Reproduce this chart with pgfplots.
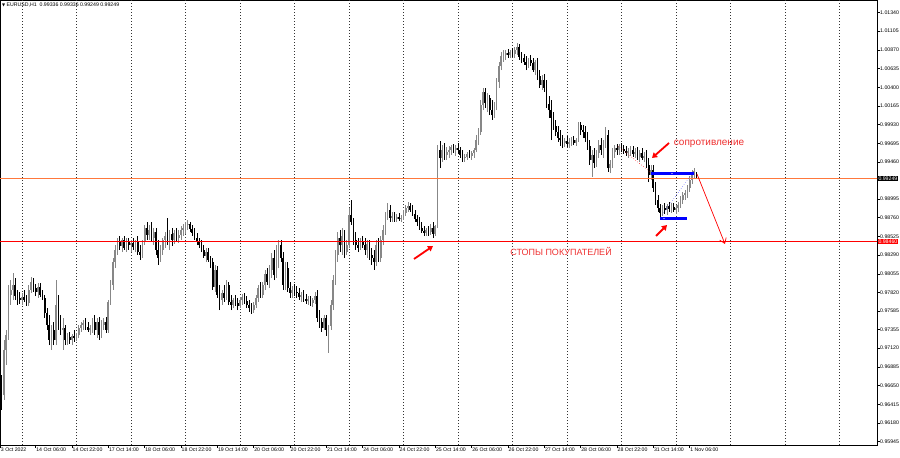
\documentclass[border=0pt]{standalone}
\usepackage{fontspec}
\setmainfont{Liberation Sans}
\newfontfamily\dejavu{DejaVu Sans}
\usepackage{pgfplots}
\pgfplotsset{compat=1.18}
\usepackage{pgfplotstable}
\usetikzlibrary{arrows.meta}
\definecolor{annred}{RGB}{238,48,48}
\definecolor{bidline}{RGB}{255,120,60}
\definecolor{bullgray}{RGB}{135,135,135}

\pgfplotstableread{
i o h l c
-10 0.97349 0.97475 0.96658 0.96720
-9 0.96720 0.96783 0.96343 0.96532
-8 0.96532 0.97223 0.96469 0.97098
-7 0.97098 0.97349 0.96909 0.97286
-6 0.97286 0.97915 0.97223 0.97789
-5 0.97789 0.97977 0.97663 0.97852
-4 0.97852 0.98065 0.97726 0.97915
-3 0.97915 0.98003 0.97726 0.97776
-2 0.97776 0.97852 0.97663 0.97751
-1 0.97751 0.97827 0.97676 0.97726
0 0.97726 0.97814 0.97663 0.97764
1 0.97764 0.97852 0.97701 0.97726
2 0.97726 0.97789 0.97651 0.97688
3 0.97688 0.97915 0.97651 0.97852
4 0.97852 0.98015 0.97814 0.97952
5 0.97952 0.98003 0.97827 0.97877
6 0.97877 0.97927 0.97776 0.97827
7 0.97827 0.97940 0.97751 0.97889
8 0.97889 0.97940 0.97764 0.97789
9 0.97789 0.97852 0.97726 0.97751
10 0.97751 0.97789 0.97500 0.97563
11 0.97563 0.97625 0.97349 0.97412
12 0.97412 0.97537 0.97160 0.97223
13 0.97223 0.97412 0.97098 0.97349
14 0.97349 0.97450 0.97160 0.97223
15 0.97223 0.97977 0.97160 0.97663
16 0.97663 0.97789 0.97349 0.97450
17 0.97450 0.97537 0.97286 0.97349
18 0.97349 0.97500 0.97098 0.97374
19 0.97374 0.97412 0.97160 0.97223
20 0.97223 0.97311 0.97160 0.97261
21 0.97261 0.97324 0.97173 0.97223
22 0.97223 0.97299 0.97160 0.97274
23 0.97274 0.97349 0.97198 0.97248
24 0.97248 0.97311 0.97211 0.97286
25 0.97286 0.97412 0.97248 0.97374
26 0.97374 0.97450 0.97324 0.97412
27 0.97412 0.97475 0.97349 0.97437
28 0.97437 0.97500 0.97349 0.97387
29 0.97387 0.97450 0.97324 0.97349
30 0.97349 0.97412 0.97286 0.97374
31 0.97374 0.97500 0.97311 0.97450
32 0.97450 0.97537 0.97286 0.97349
33 0.97349 0.97500 0.97248 0.97450
34 0.97450 0.97512 0.97223 0.97286
35 0.97286 0.97475 0.97248 0.97412
36 0.97412 0.97500 0.97349 0.97450
37 0.97450 0.97512 0.97311 0.97349
38 0.97349 0.97726 0.97311 0.97701
39 0.97701 0.97977 0.97663 0.97915
40 0.97915 0.98254 0.97852 0.98204
41 0.98204 0.98417 0.98128 0.98355
42 0.98355 0.98505 0.98292 0.98455
43 0.98455 0.98531 0.98355 0.98405
44 0.98405 0.98505 0.98329 0.98480
45 0.98480 0.98531 0.98355 0.98380
46 0.98380 0.98505 0.98329 0.98455
47 0.98455 0.98505 0.98355 0.98417
48 0.98417 0.98480 0.98329 0.98443
49 0.98443 0.98505 0.98355 0.98392
50 0.98392 0.98480 0.98329 0.98468
51 0.98468 0.98531 0.98292 0.98329
52 0.98329 0.98417 0.98229 0.98292
53 0.98292 0.98480 0.98254 0.98455
54 0.98455 0.98669 0.98417 0.98631
55 0.98631 0.98707 0.98480 0.98543
56 0.98543 0.98669 0.98480 0.98606
57 0.98606 0.98707 0.98455 0.98505
58 0.98505 0.98631 0.98417 0.98581
59 0.98581 0.98631 0.98292 0.98355
60 0.98355 0.98480 0.98166 0.98254
61 0.98254 0.98417 0.98204 0.98355
62 0.98355 0.98505 0.98292 0.98480
63 0.98480 0.98581 0.98380 0.98531
64 0.98531 0.98757 0.98417 0.98455
65 0.98455 0.98606 0.98355 0.98556
66 0.98556 0.98631 0.98405 0.98480
67 0.98480 0.98606 0.98430 0.98568
68 0.98568 0.98631 0.98455 0.98505
69 0.98505 0.98606 0.98443 0.98543
70 0.98543 0.98656 0.98480 0.98606
71 0.98606 0.98681 0.98531 0.98631
72 0.98631 0.98707 0.98556 0.98669
73 0.98669 0.98732 0.98606 0.98681
74 0.98681 0.98707 0.98581 0.98619
75 0.98619 0.98669 0.98531 0.98568
76 0.98568 0.98631 0.98480 0.98505
77 0.98505 0.98568 0.98417 0.98455
78 0.98455 0.98505 0.98380 0.98417
79 0.98417 0.98480 0.98329 0.98355
80 0.98355 0.98417 0.98254 0.98279
81 0.98279 0.98380 0.98204 0.98329
82 0.98329 0.98380 0.98204 0.98229
83 0.98229 0.98279 0.98128 0.98204
84 0.98204 0.98254 0.97852 0.97889
85 0.97889 0.98166 0.97827 0.98103
86 0.98103 0.98153 0.97751 0.97789
87 0.97789 0.97915 0.97600 0.97726
88 0.97726 0.97852 0.97663 0.97814
89 0.97814 0.97915 0.97701 0.97751
90 0.97751 0.97977 0.97726 0.97915
91 0.97915 0.97952 0.97663 0.97701
92 0.97701 0.97789 0.97600 0.97663
93 0.97663 0.97751 0.97625 0.97726
94 0.97726 0.97789 0.97651 0.97688
95 0.97688 0.97751 0.97600 0.97651
96 0.97651 0.97764 0.97625 0.97726
97 0.97726 0.97802 0.97663 0.97764
98 0.97764 0.97814 0.97676 0.97713
99 0.97713 0.97776 0.97625 0.97663
100 0.97663 0.97726 0.97575 0.97625
101 0.97625 0.97688 0.97550 0.97600
102 0.97600 0.97701 0.97563 0.97663
103 0.97663 0.97789 0.97625 0.97751
104 0.97751 0.97915 0.97701 0.97877
105 0.97877 0.97952 0.97751 0.97789
106 0.97789 0.97952 0.97751 0.97915
107 0.97915 0.98103 0.97852 0.98053
108 0.98053 0.98128 0.97915 0.97952
109 0.97952 0.98166 0.97877 0.98103
110 0.98103 0.98317 0.98003 0.98254
111 0.98254 0.98355 0.97977 0.98040
112 0.98040 0.98417 0.98003 0.98355
113 0.98355 0.98480 0.98128 0.98417
114 0.98417 0.98480 0.98204 0.98254
115 0.98254 0.98329 0.97852 0.97915
116 0.97915 0.98204 0.97852 0.98128
117 0.98128 0.98204 0.97827 0.97877
118 0.97877 0.97952 0.97751 0.97814
119 0.97814 0.97902 0.97751 0.97852
120 0.97852 0.97927 0.97776 0.97827
121 0.97827 0.97902 0.97751 0.97814
122 0.97814 0.97877 0.97726 0.97764
123 0.97764 0.97827 0.97701 0.97789
124 0.97789 0.97852 0.97701 0.97739
125 0.97739 0.97802 0.97676 0.97713
126 0.97713 0.97776 0.97663 0.97739
127 0.97739 0.97776 0.97651 0.97688
128 0.97688 0.97751 0.97638 0.97726
129 0.97726 0.97827 0.97676 0.97776
130 0.97776 0.97852 0.97450 0.97500
131 0.97500 0.97600 0.97374 0.97450
132 0.97450 0.97500 0.97324 0.97374
133 0.97374 0.97537 0.97349 0.97500
134 0.97500 0.97537 0.97274 0.97349
135 0.97349 0.97412 0.97060 0.97399
136 0.97399 0.97726 0.97349 0.97663
137 0.97663 0.98040 0.97600 0.97977
138 0.97977 0.98355 0.97915 0.98292
139 0.98292 0.98581 0.98204 0.98505
140 0.98505 0.98606 0.98329 0.98417
141 0.98417 0.98631 0.98292 0.98531
142 0.98531 0.98606 0.98254 0.98329
143 0.98329 0.98480 0.98292 0.98417
144 0.98417 0.98882 0.98380 0.98794
145 0.98794 0.98983 0.98669 0.98707
146 0.98707 0.98757 0.98417 0.98480
147 0.98480 0.98581 0.98355 0.98417
148 0.98417 0.98505 0.98329 0.98380
149 0.98380 0.98505 0.98355 0.98455
150 0.98455 0.98531 0.98380 0.98417
151 0.98417 0.98505 0.98292 0.98355
152 0.98355 0.98480 0.98254 0.98430
153 0.98430 0.98480 0.98229 0.98292
154 0.98292 0.98380 0.98166 0.98254
155 0.98254 0.98355 0.98103 0.98204
156 0.98204 0.98480 0.98153 0.98417
157 0.98417 0.98505 0.98204 0.98254
158 0.98254 0.98531 0.98204 0.98480
159 0.98480 0.98669 0.98417 0.98606
160 0.98606 0.98832 0.98543 0.98794
161 0.98794 0.98945 0.98732 0.98857
162 0.98857 0.98920 0.98707 0.98757
163 0.98757 0.98832 0.98707 0.98782
164 0.98782 0.98832 0.98707 0.98744
165 0.98744 0.98807 0.98707 0.98769
166 0.98769 0.98820 0.98719 0.98744
167 0.98744 0.98794 0.98707 0.98757
168 0.98757 0.98857 0.98732 0.98820
169 0.98820 0.98920 0.98782 0.98882
170 0.98882 0.98958 0.98832 0.98908
171 0.98908 0.98945 0.98832 0.98857
172 0.98857 0.98920 0.98782 0.98807
173 0.98807 0.98857 0.98707 0.98744
174 0.98744 0.98794 0.98656 0.98707
175 0.98707 0.98769 0.98606 0.98631
176 0.98631 0.98707 0.98568 0.98593
177 0.98593 0.98656 0.98531 0.98568
178 0.98568 0.98631 0.98531 0.98606
179 0.98606 0.98656 0.98531 0.98581
180 0.98581 0.98681 0.98543 0.98631
181 0.98631 0.98707 0.98505 0.98556
182 0.98556 0.98669 0.98531 0.98656
183 0.98656 0.99674 0.98631 0.99612
184 0.99612 0.99725 0.99385 0.99511
185 0.99511 0.99674 0.99461 0.99612
186 0.99612 0.99700 0.99486 0.99549
187 0.99549 0.99649 0.99486 0.99586
188 0.99586 0.99662 0.99511 0.99612
189 0.99612 0.99674 0.99549 0.99649
190 0.99649 0.99687 0.99574 0.99612
191 0.99612 0.99674 0.99536 0.99637
192 0.99637 0.99700 0.99561 0.99612
193 0.99612 0.99649 0.99511 0.99549
194 0.99549 0.99612 0.99461 0.99511
195 0.99511 0.99561 0.99461 0.99524
196 0.99524 0.99586 0.99486 0.99561
197 0.99561 0.99612 0.99511 0.99536
198 0.99536 0.99599 0.99486 0.99574
199 0.99574 0.99637 0.99511 0.99612
200 0.99612 0.99800 0.99586 0.99737
201 0.99737 0.99888 0.99674 0.99838
202 0.99838 1.00240 0.99800 1.00177
203 1.00177 1.00391 1.00114 1.00341
204 1.00341 1.00391 1.00139 1.00202
205 1.00202 1.00328 1.00089 1.00265
206 1.00265 1.00303 1.00051 1.00114
207 1.00114 1.00240 0.99989 1.00051
208 1.00051 1.00215 1.00014 1.00139
209 1.00139 1.00517 1.00114 1.00466
210 1.00466 1.00718 1.00391 1.00667
211 1.00667 1.00843 1.00617 1.00793
212 1.00793 1.00869 1.00718 1.00806
213 1.00806 1.00869 1.00743 1.00831
214 1.00831 1.00881 1.00768 1.00806
215 1.00806 1.00869 1.00768 1.00843
216 1.00843 1.00894 1.00781 1.00818
217 1.00818 1.00906 1.00768 1.00869
218 1.00869 1.00957 1.00806 1.00906
219 1.00906 1.00944 1.00743 1.00781
220 1.00781 1.00843 1.00705 1.00768
221 1.00768 1.00818 1.00680 1.00718
222 1.00718 1.00793 1.00617 1.00680
223 1.00680 1.00768 1.00642 1.00743
224 1.00743 1.00806 1.00667 1.00705
225 1.00705 1.00768 1.00592 1.00617
226 1.00617 1.00743 1.00554 1.00718
227 1.00718 1.00768 1.00491 1.00542
228 1.00542 1.00617 1.00391 1.00429
229 1.00429 1.00554 1.00366 1.00491
230 1.00491 1.00567 1.00341 1.00391
231 1.00391 1.00491 1.00139 1.00190
232 1.00190 1.00290 1.00014 1.00114
233 1.00114 1.00240 0.99737 1.00014
234 1.00014 1.00089 0.99863 0.99913
235 0.99913 0.99989 0.99787 0.99838
236 0.99838 0.99913 0.99712 0.99762
237 0.99762 0.99863 0.99662 0.99737
238 0.99737 0.99800 0.99637 0.99700
239 0.99700 0.99762 0.99649 0.99725
240 0.99725 0.99787 0.99649 0.99687
241 0.99687 0.99762 0.99637 0.99712
242 0.99712 0.99775 0.99662 0.99737
243 0.99737 0.99787 0.99674 0.99700
244 0.99700 0.99762 0.99662 0.99737
245 0.99737 0.99963 0.99712 0.99926
246 0.99926 0.99963 0.99800 0.99863
247 0.99863 0.99926 0.99762 0.99838
248 0.99838 0.99913 0.99712 0.99762
249 0.99762 0.99838 0.99612 0.99662
250 0.99662 0.99737 0.99423 0.99486
251 0.99486 0.99612 0.99272 0.99549
252 0.99549 0.99637 0.99385 0.99448
253 0.99448 0.99612 0.99398 0.99574
254 0.99574 0.99737 0.99511 0.99674
255 0.99674 0.99762 0.99549 0.99612
256 0.99612 0.99737 0.99511 0.99700
257 0.99700 0.99901 0.99637 0.99800
258 0.99800 0.99863 0.99335 0.99385
259 0.99385 0.99486 0.99322 0.99436
260 0.99436 0.99637 0.99385 0.99586
261 0.99586 0.99674 0.99511 0.99637
262 0.99637 0.99687 0.99549 0.99612
263 0.99612 0.99687 0.99549 0.99662
264 0.99662 0.99700 0.99586 0.99624
265 0.99624 0.99674 0.99561 0.99599
266 0.99599 0.99662 0.99536 0.99574
267 0.99574 0.99637 0.99511 0.99599
268 0.99599 0.99662 0.99536 0.99612
269 0.99612 0.99662 0.99524 0.99561
270 0.99561 0.99637 0.99511 0.99586
271 0.99586 0.99649 0.99486 0.99524
272 0.99524 0.99612 0.99461 0.99574
273 0.99574 0.99637 0.99486 0.99511
274 0.99511 0.99586 0.99461 0.99536
275 0.99536 0.99612 0.99385 0.99423
276 0.99423 0.99511 0.99209 0.99297
277 0.99297 0.99423 0.99234 0.99360
278 0.99360 0.99423 0.99084 0.99134
279 0.99134 0.99209 0.98920 0.98983
280 0.98983 0.99046 0.98832 0.98882
281 0.98882 0.98933 0.98769 0.98820
282 0.98820 0.98920 0.98782 0.98882
283 0.98882 0.98945 0.98807 0.98857
284 0.98857 0.98933 0.98794 0.98908
285 0.98908 0.98958 0.98832 0.98870
286 0.98870 0.98945 0.98820 0.98895
287 0.98895 0.98945 0.98832 0.98857
288 0.98857 0.98920 0.98807 0.98882
289 0.98882 0.98958 0.98832 0.98920
290 0.98920 0.99033 0.98882 0.98983
291 0.98983 0.99084 0.98933 0.99046
292 0.99046 0.99109 0.98983 0.99071
293 0.99071 0.99172 0.99008 0.99134
294 0.99134 0.99285 0.99084 0.99234
295 0.99234 0.99360 0.99184 0.99310
296 0.99310 0.99385 0.99260 0.99348
297 0.99336 0.99336 0.99249 0.99249
}\candles

\begin{document}
\begin{tikzpicture}
\begin{axis}[
  at={(0pt,0pt)}, anchor=north west,
  scale only axis, width=877pt, height=445pt,
  xmin=-9.688, xmax=376.52, ymin=0.95903, ymax=1.01497,
  axis line style={black, line width=0.6pt},
  ytick pos=right, xtick pos=bottom,
  tick align=outside, major tick length=2.5pt,
  tick style={black, line width=0.5pt},
  xtick={-9.6,6,22,...,294},
  xticklabels={3 Oct 2022,14 Oct 06:00,14 Oct 22:00,17 Oct 14:00,18 Oct 06:00,18 Oct 22:00,19 Oct 14:00,20 Oct 06:00,20 Oct 22:00,21 Oct 14:00,24 Oct 06:00,24 Oct 22:00,25 Oct 14:00,26 Oct 06:00,26 Oct 22:00,27 Oct 14:00,28 Oct 06:00,28 Oct 22:00,31 Oct 14:00,1 Nov 06:00},
  xticklabel style={anchor=north west, inner sep=0.5pt, xshift=0pt, font=\fontsize{5.2}{6}\selectfont},
  ytick={1.01340,1.01105,1.00870,1.00635,1.00400,1.00165,0.99930,0.99695,0.99460,0.98995,0.98760,0.98525,0.98290,0.98055,0.97820,0.97585,0.97355,0.97120,0.96885,0.96650,0.96415,0.96180,0.95945},
  yticklabels={1.01340,1.01105,1.00870,1.00635,1.00400,1.00165,0.99930,0.99695,0.99460,0.98995,0.98760,0.98525,0.98290,0.98055,0.97820,0.97585,0.97355,0.97120,0.96885,0.96650,0.96415,0.96180,0.95945},
  yticklabel style={anchor=west, inner sep=0.5pt, font=\fontsize{5.2}{6}\selectfont},
  extra x ticks={0,24,...,360},
  extra x tick labels={},
  extra x tick style={grid=major, major tick length=0pt},
  major grid style={black!80, line width=0.4pt, dash pattern=on 1pt off 2pt},
  clip=true,
]
% bullish candles: wick and body (bearish rows moved far outside the view)
\addplot[quiver={u=0, v=\thisrow{h}-\thisrow{l}}, -, draw=bullgray, line width=0.7pt, mark=none, forget plot]
  table[x expr={\thisrow{c}<\thisrow{o} ? -1000 : \thisrow{i}}, y=l] {\candles};
\addplot[quiver={u=0, v=\thisrow{c}-\thisrow{o}}, -, draw=bullgray, line width=1.7pt, mark=none, forget plot]
  table[x expr={\thisrow{c}<\thisrow{o} ? -1000 : \thisrow{i}}, y=o] {\candles};
% bearish candles: wick and body
\addplot[quiver={u=0, v=\thisrow{h}-\thisrow{l}}, -, draw=black, line width=0.7pt, mark=none, forget plot]
  table[x expr={\thisrow{c}<\thisrow{o} ? \thisrow{i} : -1000}, y=l] {\candles};
\addplot[quiver={u=0, v=\thisrow{o}-\thisrow{c}}, -, draw=black, line width=1.7pt, mark=none, forget plot]
  table[x expr={\thisrow{c}<\thisrow{o} ? \thisrow{i} : -1000}, y=c] {\candles};
% price levels
\draw[bidline, line width=0.8pt] (axis cs:-20,0.99249) -- (axis cs:400,0.99249);
\draw[red, line width=0.8pt] (axis cs:-20,0.98460) -- (axis cs:400,0.98460);
\end{axis}
\begin{scope}[x=1pt,y=1pt]
% title
\node[anchor=west, inner sep=0pt, font=\fontsize{5.2}{6}\selectfont] at (2,-5) {{\dejavu\fontsize{4}{5}\selectfont ▼}\ EURUSD,H1\ \ 0.99336 0.99336 0.99249 0.99249};
% price boxes
\node[anchor=west, fill=black, text=white, inner sep=0.8pt, font=\fontsize{5.2}{6}\selectfont] at (877.5,-178.8) {0.99249};
\node[anchor=west, fill=red, text=white, inner sep=0.8pt, font=\fontsize{5.2}{6}\selectfont] at (877.5,-241.6) {0.98460};
% annotations
\node[text=annred, font=\fontsize{10}{12}\selectfont] at (709,-144) {сопротивление};
\node[text=annred, font=\fontsize{9}{11}\selectfont] at (561,-251) {СТОПЫ ПОКУПАТЕЛЕЙ};
\draw[red, line width=1.8pt, -{Triangle[length=5pt,width=6pt]}] (414,-259) -- (433,-246);
\draw[red, line width=1.8pt, -{Triangle[length=5pt,width=6pt]}] (669,-143) -- (652,-158);
\draw[red, line width=1.8pt, -{Triangle[length=5pt,width=6pt]}] (656,-236) -- (667,-225);
\draw[red, line width=0.7pt, -{Straight Barb[length=5pt,width=7pt]}] (697,-174) -- (725,-244);
\draw[red, line width=0.5pt, dotted] (618,-146) -- (650,-172);
\draw[blue!70!white, line width=0.5pt, dotted] (662,-215) -- (693,-172);
\draw[blue, line width=3pt] (651,-173.5) -- (694,-173.5);
\draw[blue, line width=3pt] (660,-218.5) -- (687,-218.5);
\fill[white] (672,-173.5) circle (0.7);
\fill[white] (664,-218.5) circle (0.7);
\end{scope}
\pgfresetboundingbox
\path[use as bounding box] (0pt,0pt) rectangle (900pt,-458pt);
\end{tikzpicture}
\end{document}
